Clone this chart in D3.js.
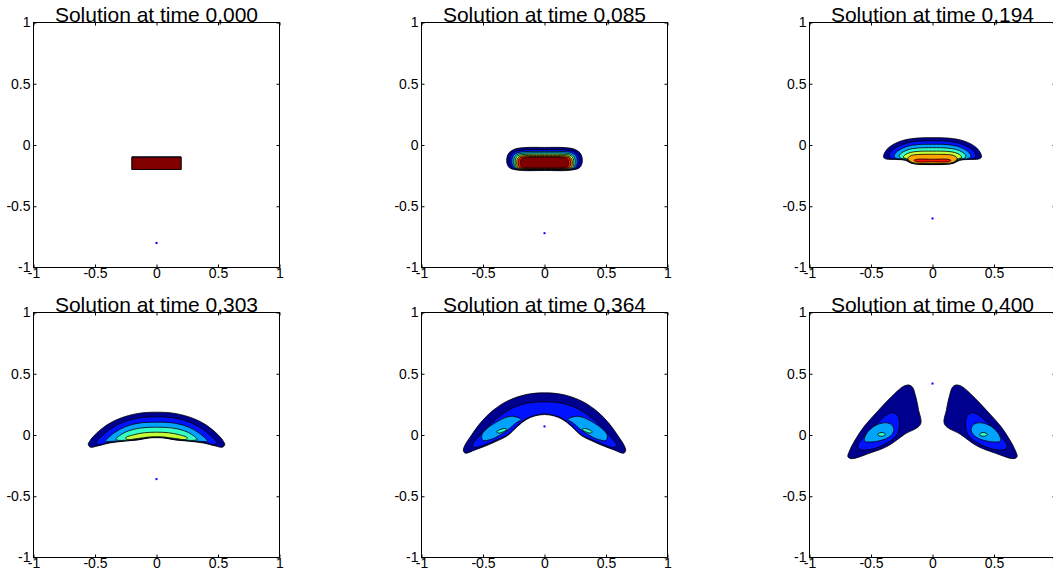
<!DOCTYPE html>
<html>
<head>
<meta charset="utf-8">
<script src="https://cdn.jsdelivr.net/npm/d3@7"></script>
<style>
body { margin: 0; background: #fff; }
text { font-family: "Liberation Sans", Arial, sans-serif; fill: #000; }
</style>
</head>
<body>
<script>
// frame labels and the blue source marker (y position, x is always 0)
const times = ["0,000", "0,085", "0,194", "0,303", "0,364", "0,400"]
const sourceY = [-0.8, -0.72, -0.6, -0.36, 0.07, 0.42]
const tickValues = [-1, -0.5, 0, 0.5, 1]

// jet colours for the 8 contour levels
const levelColors = ["#00008F", "#0012FF", "#00A4FF", "#37FFC8", "#C8FF37", "#FFA400", "#FF1200", "#800000"]

// contour bands: [level, points, kind]
// kind "full" = polygon as is, "half" = right half mirrored round x=0, "pair" = shape and its mirror image
const bands000 = [
    [0, [[-0.2, -0.096], [0.2, -0.096], [0.2, -0.2], [-0.2, -0.2]], "full"],
    [7, [[-0.2, -0.1], [0.2, -0.1], [0.2, -0.2], [-0.2, -0.2]], "full"]
]

const bands085 = [
    [0, [[0, -0.02], [0.16, -0.021], [0.24, -0.033], [0.285, -0.06], [0.305, -0.1], [0.305, -0.15], [0.285, -0.185], [0.22, -0.205], [0, -0.208]], "half"],
    [1, [[0, -0.038], [0.16, -0.04], [0.23, -0.05], [0.268, -0.075], [0.282, -0.11], [0.28, -0.155], [0.26, -0.185], [0.2, -0.2], [0, -0.203]], "half"],
    [2, [[0, -0.052], [0.16, -0.054], [0.22, -0.063], [0.253, -0.085], [0.265, -0.12], [0.262, -0.16], [0.245, -0.185], [0.19, -0.198], [0, -0.2]], "half"],
    [3, [[0, -0.064], [0.16, -0.066], [0.212, -0.074], [0.24, -0.093], [0.25, -0.125], [0.248, -0.162], [0.232, -0.185], [0.185, -0.196], [0, -0.198]], "half"],
    [4, [[0, -0.075], [0.16, -0.077], [0.205, -0.084], [0.229, -0.1], [0.238, -0.13], [0.236, -0.165], [0.222, -0.185], [0.18, -0.194], [0, -0.196]], "half"],
    [5, [[0, -0.085], [0.16, -0.087], [0.198, -0.093], [0.218, -0.108], [0.226, -0.135], [0.224, -0.166], [0.212, -0.183], [0.175, -0.192], [0, -0.194]], "half"],
    [6, [[0, -0.094], [0.16, -0.096], [0.192, -0.101], [0.208, -0.114], [0.214, -0.138], [0.212, -0.166], [0.2, -0.181], [0.17, -0.19], [0, -0.192]], "half"],
    [7, [[0, -0.103], [0.15, -0.104], [0.18, -0.109], [0.192, -0.122], [0.196, -0.142], [0.193, -0.165], [0.182, -0.178], [0.155, -0.184], [0, -0.186]], "half"]
]

const bands194 = [
    [0, [[0, 0.06], [0.12, 0.057], [0.22, 0.043], [0.3, 0.015], [0.36, -0.025], [0.39, -0.065], [0.398, -0.1], [0.375, -0.115], [0.3, -0.118], [0.22, -0.125], [0.17, -0.15], [0.1, -0.158], [0, -0.16]], "half"],
    [1, [[0, 0.034], [0.12, 0.031], [0.21, 0.016], [0.28, -0.012], [0.33, -0.045], [0.352, -0.08], [0.345, -0.105], [0.3, -0.115], [0.22, -0.122], [0.165, -0.148], [0.1, -0.156], [0, -0.158]], "half"],
    [2, [[0, 0.006], [0.12, 0.003], [0.2, -0.01], [0.26, -0.035], [0.3, -0.065], [0.312, -0.095], [0.29, -0.11], [0.22, -0.12], [0.16, -0.146], [0.1, -0.154], [0, -0.156]], "half"],
    [3, [[0, -0.022], [0.12, -0.025], [0.19, -0.036], [0.24, -0.057], [0.27, -0.085], [0.265, -0.105], [0.21, -0.117], [0.155, -0.143], [0.1, -0.152], [0, -0.154]], "half"],
    [4, [[0, -0.05], [0.12, -0.052], [0.18, -0.061], [0.22, -0.078], [0.238, -0.1], [0.2, -0.115], [0.15, -0.14], [0.1, -0.15], [0, -0.152]], "half"],
    [5, [[0, -0.076], [0.12, -0.078], [0.17, -0.085], [0.195, -0.1], [0.2, -0.115], [0.18, -0.135], [0.14, -0.148], [0, -0.15]], "half"],
    [6, [[0, -0.116], [0.13, -0.117], [0.15, -0.125], [0.13, -0.136], [0, -0.137]], "half"]
]

const bands303 = [
    [0, [[0, 0.186], [0.15, 0.176], [0.3, 0.135], [0.41, 0.078], [0.49, 0.012], [0.54, -0.045], [0.555, -0.08], [0.535, -0.1], [0.48, -0.09], [0.38, -0.065], [0.26, -0.05], [0.15, -0.04], [0.06, -0.024], [0, -0.022]], "half"],
    [1, [[0, 0.148], [0.15, 0.138], [0.28, 0.1], [0.38, 0.045], [0.45, -0.015], [0.49, -0.06], [0.47, -0.078], [0.38, -0.06], [0.26, -0.047], [0.15, -0.037], [0.06, -0.022], [0, -0.02]], "half"],
    [2, [[0, 0.105], [0.15, 0.096], [0.26, 0.065], [0.34, 0.02], [0.405, -0.035], [0.415, -0.052], [0.36, -0.052], [0.26, -0.044], [0.15, -0.034], [0.06, -0.02], [0, -0.018]], "half"],
    [3, [[0, 0.064], [0.13, 0.057], [0.23, 0.033], [0.3, -0.005], [0.33, -0.035], [0.3, -0.044], [0.23, -0.04], [0.15, -0.031], [0.06, -0.018], [0, -0.016]], "half"],
    [4, [[0, 0.023], [0.1, 0.018], [0.18, 0.003], [0.25, -0.022], [0.24, -0.036], [0.15, -0.028], [0.06, -0.016], [0, -0.014]], "half"]
]

const bands364 = [
    [0, [[0, 0.344], [0.15, 0.33], [0.3, 0.278], [0.42, 0.2], [0.52, 0.1], [0.6, -0.01], [0.645, -0.08], [0.66, -0.125], [0.645, -0.148], [0.56, -0.12], [0.48, -0.09], [0.4, -0.055], [0.3, -0.005], [0.22, 0.07], [0.15, 0.125], [0.08, 0.155], [0, 0.167]], "half"],
    [1, [[0, 0.27], [0.15, 0.258], [0.28, 0.21], [0.38, 0.14], [0.47, 0.06], [0.54, -0.02], [0.585, -0.08], [0.57, -0.102], [0.5, -0.085], [0.4, -0.045], [0.3, 0.003], [0.22, 0.078], [0.15, 0.132], [0.08, 0.16], [0, 0.172]], "half"],
    [2, [[0.19, 0.127], [0.24, 0.15], [0.3, 0.148], [0.4, 0.1], [0.47, 0.05], [0.51, 0.0], [0.5, -0.045], [0.45, -0.04], [0.4, -0.022], [0.3, 0.04], [0.23, 0.1]], "pair"],
    [3, [[0.305, 0.046], [0.33, 0.053], [0.365, 0.042], [0.39, 0.025], [0.37, 0.016], [0.335, 0.027]], "pair"]
]

const bands400 = [
    [0, [[0.098, 0.087], [0.114, 0.209], [0.141, 0.331], [0.162, 0.39], [0.19, 0.408], [0.235, 0.398], [0.336, 0.31], [0.444, 0.196], [0.553, 0.073], [0.634, -0.049], [0.675, -0.13], [0.688, -0.177], [0.661, -0.193], [0.499, -0.144], [0.363, -0.09], [0.228, 0.005]], "pair"],
    [1, [[0.282, 0.155], [0.323, 0.182], [0.38, 0.16], [0.444, 0.1], [0.553, -0.008], [0.607, -0.09], [0.593, -0.117], [0.499, -0.117], [0.39, -0.076], [0.296, -0.008], [0.269, 0.073]], "pair"],
    [2, [[0.336, 0.087], [0.39, 0.1], [0.472, 0.073], [0.54, 0.005], [0.553, -0.049], [0.499, -0.057], [0.39, -0.035], [0.33, 0.005], [0.314, 0.046]], "pair"],
    [3, [[0.385, 0.01], [0.41, 0.02], [0.44, 0.012], [0.445, 0.0], [0.42, -0.01], [0.39, -0.005]], "pair"]
]

const frames = [bands000, bands085, bands194, bands303, bands364, bands400]

// subplot layout (pixels)
const lefts = [33.5, 421.5, 809.5]
const tops = [22.5, 312.5]
const width = 246, height = 245

const svg = d3.select("body").append("svg")
    .attr("width", 1053)
    .attr("height", 572)

const mirror = pts => pts.map(p => [-p[0], p[1]])

function shapesOf(band) {
    const pts = band[1], kind = band[2]
    if (kind == "full") return [{ pts: pts, closed: "linear" }]
    if (kind == "half") {
        const other = mirror(pts.slice().reverse().filter(p => p[0] !== 0))
        return [{ pts: pts.concat(other), closed: "smooth" }]
    }
    return [{ pts: pts, closed: "smooth" }, { pts: mirror(pts).reverse(), closed: "smooth" }]
}

frames.forEach(function (bands, i) {
    const col = i % 3, row = Math.floor(i / 3)
    const g = svg.append("g")
        .attr("transform", "translate(" + lefts[col] + "," + tops[row] + ")")

    const x = d3.scaleLinear().domain([-1, 1]).range([0, width])
    const y = d3.scaleLinear().domain([-1, 1]).range([height, 0])

    const smooth = d3.line().x(d => x(d[0])).y(d => y(d[1])).curve(d3.curveCatmullRomClosed.alpha(0.5))
    const straight = d3.line().x(d => x(d[0])).y(d => y(d[1])).curve(d3.curveLinearClosed)

    bands.forEach(function (band) {
        shapesOf(band).forEach(function (s) {
            g.append("path")
                .attr("d", s.closed == "linear" ? straight(s.pts) : smooth(s.pts))
                .attr("fill", levelColors[band[0]])
                .attr("stroke", "#000")
                .attr("stroke-width", 0.8)
                .attr("stroke-linejoin", "round")
        })
    })

    // source marker
    g.append("rect")
        .attr("x", x(0) - 1)
        .attr("y", y(sourceY[i]) - 1)
        .attr("width", 2)
        .attr("height", 2)
        .attr("fill", "#0000FF")

    // box
    g.append("rect")
        .attr("width", width)
        .attr("height", height)
        .attr("fill", "none")
        .attr("stroke", "#000")
        .attr("stroke-width", 1)

    const xAxis = d3.axisBottom(x).tickValues(tickValues).tickSizeInner(-3).tickSizeOuter(0)
        .tickPadding(1).tickFormat(d => String(d))
    const yAxis = d3.axisLeft(y).tickValues(tickValues).tickSizeInner(-3).tickSizeOuter(0)
        .tickPadding(3).tickFormat(d => String(d))
    const xTop = d3.axisTop(x).tickValues(tickValues).tickSizeInner(-3).tickSizeOuter(0).tickFormat("")
    const yRight = d3.axisRight(y).tickValues(tickValues).tickSizeInner(-3).tickSizeOuter(0).tickFormat("")

    g.append("g").attr("transform", "translate(0," + height + ")").call(xAxis)
    g.append("g").call(yAxis)
    g.append("g").call(xTop)
    g.append("g").attr("transform", "translate(" + width + ",0)").call(yRight)

    g.selectAll(".domain").remove()
    g.selectAll(".tick text")
        .attr("font-size", 14)
        .attr("font-family", "'Liberation Sans', Arial, sans-serif")
        .attr("fill", "#000")

    g.append("text")
        .attr("x", width / 2)
        .attr("y", -1)
        .attr("text-anchor", "middle")
        .attr("font-size", 21)
        .text("Solution at time " + times[i])
})
</script>
</body>
</html>
